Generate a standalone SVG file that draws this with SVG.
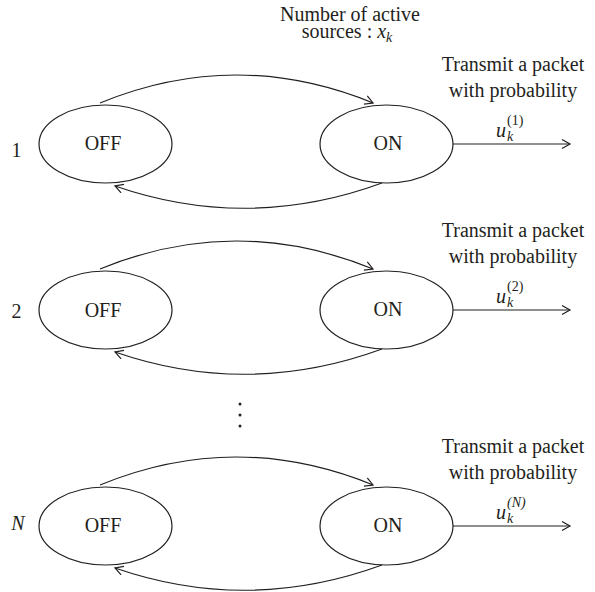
<svg xmlns="http://www.w3.org/2000/svg" width="595" height="592" viewBox="0 0 595 592">
<style>
text{font-family:"Liberation Serif","Times New Roman",serif;fill:#231f20;font-size:20px}
.m{text-anchor:middle}
.i{font-style:italic}
.s{font-size:14px}
.st{fill:none;stroke:#231f20;stroke-width:1.2}
</style>
<defs>
<marker id="a" markerUnits="userSpaceOnUse" markerWidth="12" markerHeight="12" refX="9" refY="5" orient="auto">
<path d="M1,0.5 L9,5 L1,9.5" fill="none" stroke="#231f20" stroke-width="1.2"/>
</marker>
</defs>
<rect width="595" height="592" fill="#fff"/>
<g id="header">
<text class="m" x="350" y="21">Number of active</text>
<text class="m" x="347" y="38">sources : <tspan class="i">x</tspan><tspan class="i s" dy="4">k</tspan></text>
</g>
<g id="row1">
<text class="m" x="16.5" y="157">1</text>
<g id="off1"><ellipse class="st" cx="105.5" cy="144" rx="66.5" ry="39"/><text class="m" x="103" y="150">OFF</text></g>
<g id="on1"><ellipse class="st" cx="386.5" cy="144" rx="66.5" ry="39"/><text class="m" x="388" y="150">ON</text></g>
<text class="m" x="513" y="71">Transmit a packet</text>
<text class="m" x="513" y="97">with probability</text>
<text class="i" x="496" y="137">u</text><text class="i s" x="507" y="141">k</text><text class="s" x="507" y="125">(1)</text>
</g>
<g id="row2">
<text class="m" x="16.5" y="318">2</text>
<g id="off2"><ellipse class="st" cx="105.5" cy="310" rx="66.5" ry="39"/><text class="m" x="103" y="317">OFF</text></g>
<g id="on2"><ellipse class="st" cx="386.5" cy="310" rx="66.5" ry="39"/><text class="m" x="388" y="316">ON</text></g>
<text class="m" x="513" y="237">Transmit a packet</text>
<text class="m" x="513" y="263">with probability</text>
<text class="i" x="496" y="303">u</text><text class="i s" x="507" y="307">k</text><text class="s" x="507" y="291">(2)</text>
</g>
<g id="dots">
<circle cx="240" cy="404" r="1.5" fill="#231f20"/>
<circle cx="240" cy="415" r="1.5" fill="#231f20"/>
<circle cx="240" cy="426" r="1.5" fill="#231f20"/>
</g>
<g id="rowN">
<text class="m i" x="18" y="530">N</text>
<g id="offN"><ellipse class="st" cx="105.5" cy="526" rx="66.5" ry="39"/><text class="m" x="103" y="532">OFF</text></g>
<g id="onN"><ellipse class="st" cx="386.5" cy="526" rx="66.5" ry="39"/><text class="m" x="388" y="532">ON</text></g>
<text class="m" x="513" y="453">Transmit a packet</text>
<text class="m" x="513" y="479">with probability</text>
<text class="i" x="496" y="519">u</text><text class="i s" x="507" y="523">k</text><text class="s i" x="507" y="507">(N)</text>
</g>
<g id="connectors">
<path class="st" marker-end="url(#a)" d="M100,103 Q236,47 373,103"/>
<path class="st" marker-end="url(#a)" d="M382,183 Q248,232 115,186"/>
<line class="st" marker-end="url(#a)" x1="453" y1="144" x2="570" y2="144"/>
<path class="st" marker-end="url(#a)" d="M100,269 Q236,213 373,269"/>
<path class="st" marker-end="url(#a)" d="M382,349 Q248,398 115,352"/>
<line class="st" marker-end="url(#a)" x1="453" y1="310" x2="570" y2="310"/>
<path class="st" marker-end="url(#a)" d="M100,485 Q236,429 373,485"/>
<path class="st" marker-end="url(#a)" d="M382,565 Q248,614 115,568"/>
<line class="st" marker-end="url(#a)" x1="453" y1="526" x2="570" y2="526"/>
</g>
</svg>
